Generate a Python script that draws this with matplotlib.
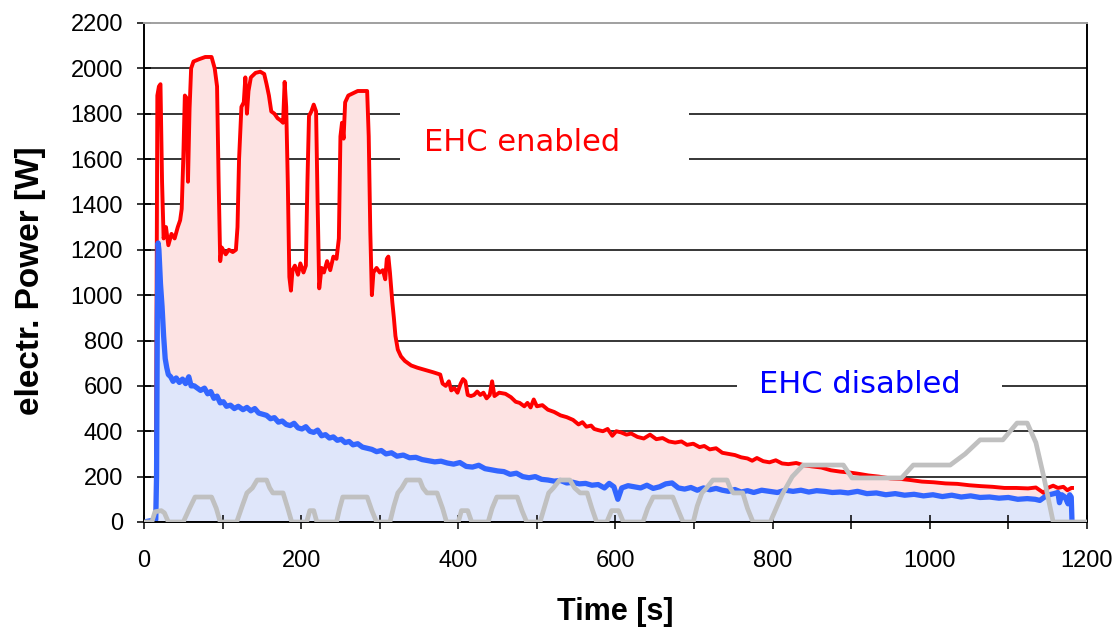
import matplotlib
matplotlib.use('Agg')
from matplotlib import pyplot as plt
from matplotlib.patches import Rectangle

# EHC enabled (red), electrical power [W] over time [s]
red_time = [0, 15, 17, 19, 21, 23, 25, 28, 31, 35, 39, 43, 46, 48, 50, 52, 54, 56, 58, 60, 63, 70, 78, 86,
            90, 93, 95, 97, 99, 104, 108, 113, 117, 119, 121, 124, 127, 129, 131, 133, 136, 142, 148, 153,
            156, 159, 162, 166, 170, 174, 177, 179, 181, 183, 185, 187, 189, 192, 196, 199, 203, 206, 208,
            210, 213, 216, 219, 221, 223, 226, 229, 233, 237, 241, 245, 248, 250, 252, 254, 256, 260, 266,
            272, 280, 284, 286, 288, 290, 292, 296, 300, 304, 307, 309, 311, 313, 316, 318, 320, 323, 327,
            332, 340, 348, 358, 368, 377, 380, 384, 388, 391, 395, 399, 403, 406, 409, 412, 416, 420, 424,
            428, 432, 436, 440, 443, 446, 452, 460, 467, 473, 478, 484, 488, 492, 496, 500, 507, 514, 522,
            530, 538, 546, 553, 558, 563, 569, 573, 578, 584, 590, 596, 601, 607, 614, 620, 628, 636, 644,
            652, 660, 668, 676, 684, 691, 699, 707, 713, 720, 728, 736, 744, 752, 760, 768, 774, 780, 788,
            796, 804, 812, 820, 830, 840, 850, 862, 874, 886, 898, 910, 922, 935, 950, 962, 975, 990, 1005,
            1020, 1035, 1050, 1065, 1080, 1095, 1110, 1125, 1135, 1140, 1145, 1150, 1157, 1163, 1170, 1175,
            1180, 1181]
red_power = [0, 0, 1880, 1920, 1930, 1500, 1250, 1300, 1220, 1270, 1250, 1300, 1330, 1380, 1600, 1880, 1870,
             1500, 1820, 2000, 2030, 2040, 2050, 2050, 2000, 1920, 1500, 1150, 1210, 1180, 1200, 1190, 1200,
             1300, 1600, 1830, 1850, 1960, 1800, 1900, 1960, 1980, 1985, 1975, 1930, 1880, 1810, 1800, 1780,
             1770, 1760, 1940, 1830, 1500, 1080, 1020, 1110, 1130, 1090, 1140, 1100, 1130, 1500, 1790, 1810,
             1840, 1810, 1400, 1030, 1120, 1100, 1150, 1110, 1170, 1160, 1250, 1700, 1760, 1690, 1850, 1880,
             1890, 1900, 1900, 1900, 1700, 1280, 1000, 1100, 1120, 1100, 1110, 1070, 1160, 1170, 1100, 970,
             900, 820, 760, 730, 710, 690, 680, 670, 660, 650, 610, 600, 620, 580, 590, 570, 610, 630, 620,
             560, 555, 560, 575, 560, 570, 545, 560, 620, 555, 570, 565, 550, 530, 525, 510, 525, 505, 540,
             510, 515, 495, 485, 470, 462, 450, 430, 440, 420, 425, 410, 405, 400, 410, 380, 400, 395, 385,
             390, 375, 368, 385, 365, 370, 355, 350, 355, 340, 345, 330, 335, 320, 325, 305, 300, 295, 285,
             280, 270, 282, 268, 263, 272, 258, 255, 260, 250, 245, 240, 228, 222, 218, 212, 205, 200, 192,
             190, 185, 178, 175, 170, 168, 162, 158, 155, 150, 150, 148, 152, 140, 128, 150, 160, 150, 155,
             140, 150, 150]

# EHC disabled (blue)
blue_time = [0, 15, 16, 17, 18, 19, 21, 23, 25, 27,
             29, 31, 34, 37, 41, 45, 49, 53, 57, 60,
             64, 68, 72, 77, 81, 85, 89, 93, 97, 101,
             105, 110, 115, 120, 126, 131, 136, 141, 146, 151,
             156, 161, 166, 171, 176, 181, 186, 191, 196, 201,
             206, 211, 216, 221, 226, 231, 236, 241, 246, 251,
             256, 261, 266, 272, 278, 284, 290, 296, 302, 308,
             315, 322, 330, 338, 346, 354, 362, 370, 378, 386,
             394, 402, 410, 418, 426, 434, 442, 450, 458, 466,
             474, 482, 490, 498, 506, 514, 522, 530, 538, 546,
             554, 562, 570, 578, 586, 592, 598, 603, 608, 616,
             624, 632, 640, 648, 656, 664, 672, 680, 688, 696,
             704, 712, 720, 728, 736, 744, 752, 760, 768, 776,
             786, 796, 806, 816, 826, 836, 846, 856, 866, 876,
             886, 896, 908, 920, 932, 944, 956, 968, 980, 992,
             1004, 1016, 1028, 1040, 1052, 1064, 1076, 1088, 1100, 1112,
             1124, 1134, 1140, 1146, 1152, 1158, 1163, 1165, 1168, 1172,
             1176, 1178, 1180, 1181]
blue_power = [0, 10, 200, 900, 1230, 1200, 1050, 950, 820, 720,
              680, 650, 640, 620, 635, 615, 630, 610, 640, 600,
              600, 590, 580, 590, 565, 575, 545, 555, 525, 530,
              510, 515, 500, 510, 495, 505, 490, 500, 480, 475,
              470, 455, 460, 440, 445, 430, 425, 435, 415, 410,
              420, 400, 395, 405, 380, 385, 370, 375, 360, 365,
              350, 355, 340, 345, 330, 325, 320, 310, 315, 300,
              305, 290, 295, 283, 285, 275, 270, 265, 268, 260,
              255, 262, 245, 242, 250, 235, 230, 225, 222, 210,
              215, 200, 195, 200, 188, 185, 180, 183, 172, 175,
              168, 170, 162, 165, 150, 170, 155, 100, 150, 160,
              155, 150, 162, 148, 155, 168, 172, 150, 145, 152,
              140, 150, 142, 148, 140, 135, 143, 132, 138, 130,
              140, 135, 130, 140, 135, 140, 132, 138, 135, 130,
              132, 128, 135, 125, 128, 120, 125, 118, 122, 115,
              120, 112, 118, 110, 115, 108, 110, 105, 108, 100,
              103, 100, 95, 110, 120, 125, 130, 85, 120, 110,
              80, 120, 110, 0]

# driving cycle (grey), scaled to the power axis
cycle_time = [0, 10, 14, 22, 26, 31, 50, 58, 65, 86,
              92, 97, 118, 125, 131, 138, 144, 156, 160, 164,
              177, 183, 188, 207, 211, 216, 220, 245, 249, 253,
              284, 290, 296, 313, 318, 323, 328, 334, 351, 355,
              360, 373, 380, 385, 400, 404, 412, 417, 438, 443,
              449, 475, 481, 487, 504, 510, 515, 521, 529, 542,
              548, 555, 564, 570, 576, 589, 595, 604, 610, 635,
              641, 648, 673, 680, 686, 699, 704, 710, 716, 724,
              742, 746, 750, 762, 768, 775, 797, 812, 825, 839,
              890, 901, 964, 979, 1026, 1045, 1064, 1093, 1111, 1124,
              1135, 1145, 1157, 1200]
cycle_value = [0, 0, 45, 50, 40, 0, 0, 60, 110, 110,
               60, 0, 0, 70, 128, 150, 185, 185, 150, 128,
               128, 60, 0, 0, 50, 50, 0, 0, 60, 110,
               110, 50, 0, 0, 70, 128, 150, 185, 185, 150,
               128, 128, 60, 0, 0, 50, 50, 0, 0, 60,
               110, 110, 50, 0, 0, 70, 128, 150, 185, 185,
               150, 128, 128, 60, 0, 0, 50, 50, 0, 0,
               60, 110, 110, 50, 0, 0, 70, 128, 150, 185,
               185, 150, 128, 128, 60, 0, 0, 120, 200, 251,
               251, 194, 194, 251, 251, 300, 362, 362, 436, 436,
               350, 200, 0, 0]

x_ticks = list(range(0, 1201, 100))
x_labels = [str(t) if t % 200 == 0 else '' for t in x_ticks]
y_ticks = list(range(0, 2201, 200))

fig = plt.figure(figsize=(11.17, 6.34), dpi=100)
ax = fig.add_axes([0.1289, 0.1767, 0.8442, 0.7871])

# gridlines sit under the (opaque) area fills
for y in y_ticks[1:-1]:
    ax.axhline(y, color='black', lw=1.1, zorder=0.5)

# white boxes behind the two labels break the gridlines
ax.add_patch(Rectangle((326, 1480), 368, 440, facecolor='white', edgecolor='none', zorder=0.7))
ax.add_patch(Rectangle((755, 470), 337, 260, facecolor='white', edgecolor='none', zorder=0.7))

ax.fill_between(red_time, red_power, 0, facecolor='#fde3e3', edgecolor='none', zorder=1)
ax.fill_between(blue_time, blue_power, 0, facecolor='#dfe6fa', edgecolor='none', zorder=1.5)
ax.plot(red_time, red_power, color='#ff0000', lw=2.8, zorder=2, solid_joinstyle='round')
ax.plot(blue_time, blue_power, color='#3366ff', lw=3.8, zorder=2.5, solid_joinstyle='round')
ax.plot(cycle_time, cycle_value, color='#c0c0c0', lw=3.4, zorder=3, solid_joinstyle='round')

ax.text(481, 1673, 'EHC enabled', color='#ff0000', fontsize=22, family='DejaVu Sans',
        ha='center', va='center', zorder=4)
ax.text(911, 608, 'EHC disabled', color='#0000ff', fontsize=22, family='DejaVu Sans',
        ha='center', va='center', zorder=4)

ax.set_xlim(0, 1200)
ax.set_ylim(0, 2200)
ax.set_xticks(x_ticks)
ax.set_xticklabels(x_labels)
ax.set_yticks(y_ticks)
ax.tick_params(axis='both', direction='inout', length=10, width=1.1, labelsize=17, colors='black')
ax.tick_params(axis='x', pad=15)
ax.tick_params(axis='y', pad=10)
for lab in ax.get_xticklabels() + ax.get_yticklabels():
    lab.set_family('Liberation Sans')

for side in ['left', 'bottom', 'right']:
    ax.spines[side].set_color('black')
    ax.spines[side].set_linewidth(1.4)
ax.spines['top'].set_color('#a0a0a0')
ax.spines['top'].set_linewidth(1.4)

fig.text(0.027, 0.558, 'electr. Power [W]', rotation=90, fontsize=24, fontweight='bold',
         family='Liberation Sans', ha='center', va='center')
fig.text(0.5506, 0.035, 'Time [s]', fontsize=22, fontweight='bold',
         family='Liberation Sans', ha='center', va='center')

fig.savefig('out.png', dpi=100)
